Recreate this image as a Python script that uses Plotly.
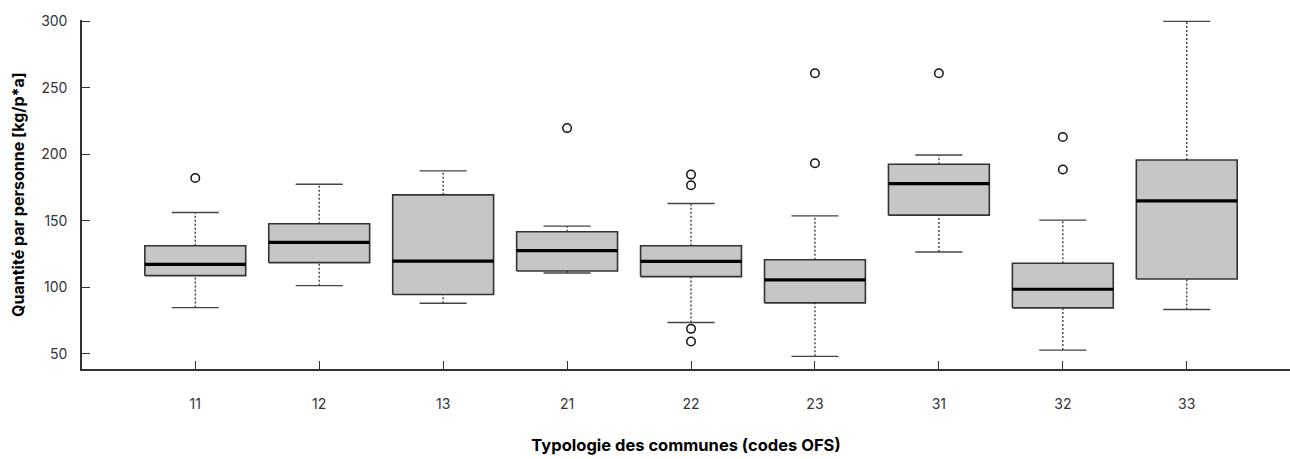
import plotly.graph_objects as go

# Municipality typology codes (OFS) and per-group boxplot statistics (kg per person per year)
codes = ["11", "12", "13", "21", "22", "23", "31", "32", "33"]
lower_whisker = [84.7, 101.2, 88.0, 110.7, 73.5, 48.0, 126.5, 52.7, 83.2]
q1 = [108.7, 118.5, 94.5, 112.2, 108.0, 88.2, 154.2, 84.5, 106.2]
median = [117.2, 133.7, 119.7, 127.5, 119.5, 105.5, 178.0, 98.5, 165.0]
q3 = [131.2, 147.7, 169.5, 141.7, 131.2, 120.7, 192.5, 118.0, 195.7]
upper_whisker = [156.2, 177.5, 187.5, 146.0, 163.0, 153.7, 199.5, 150.5, 300.0]
outliers = [
    [182.2],
    [],
    [],
    [219.7],
    [184.7, 176.7, 68.7, 59.2],
    [261.0, 193.2],
    [261.0],
    [213.0, 188.5],
    [],
]

BOX_HALF = 0.407
CAP_HALF = 0.19
FILL = "#c6c6c4"
EDGE = "#333333"

fig = go.Figure()

for i, code in enumerate(codes):
    x = i + 1
    # dotted whiskers
    for a, b in ((lower_whisker[i], q1[i]), (q3[i], upper_whisker[i])):
        fig.add_trace(go.Scatter(
            x=[x, x], y=[a, b], mode="lines",
            line=dict(color=EDGE, width=1.3, dash="2px,2px"),
            hoverinfo="skip", showlegend=False))
    # whisker caps
    for v in (lower_whisker[i], upper_whisker[i]):
        fig.add_trace(go.Scatter(
            x=[x - CAP_HALF, x + CAP_HALF], y=[v, v], mode="lines",
            line=dict(color="#444444", width=1.4),
            hoverinfo="skip", showlegend=False))
    # box
    fig.add_trace(go.Scatter(
        x=[x - BOX_HALF, x + BOX_HALF, x + BOX_HALF, x - BOX_HALF, x - BOX_HALF],
        y=[q1[i], q1[i], q3[i], q3[i], q1[i]],
        mode="lines", fill="toself", fillcolor=FILL,
        line=dict(color=EDGE, width=1.6),
        hoverinfo="skip", showlegend=False))
    # median
    fig.add_trace(go.Scatter(
        x=[x - BOX_HALF, x + BOX_HALF], y=[median[i], median[i]], mode="lines",
        line=dict(color="#000000", width=3.2),
        hoverinfo="skip", showlegend=False))
    # outliers
    if outliers[i]:
        fig.add_trace(go.Scatter(
            x=[x] * len(outliers[i]), y=outliers[i], mode="markers",
            marker=dict(symbol="circle-open", size=8.5, color="#111111",
                        line=dict(width=1.5, color="#111111")),
            cliponaxis=False, hoverinfo="skip", showlegend=False))

FONT = "Inter, Liberation Sans, Arial, sans-serif"
tick_font = dict(family=FONT, size=14, color="#333333")

fig.update_layout(
    width=1290, height=459,
    margin=dict(l=81.7, r=0, t=19.6, b=89.7),
    plot_bgcolor="white", paper_bgcolor="white",
    xaxis=dict(
        range=[0.086, 9.833],
        tickmode="array", tickvals=list(range(1, len(codes) + 1)), ticktext=codes,
        ticks="inside", ticklen=8, tickwidth=1.2, tickcolor=EDGE,
        showline=True, linecolor=EDGE, linewidth=1.5,
        showgrid=False, zeroline=False,
        tickfont=tick_font, ticklabelstandoff=21,
        title=dict(text="<b>Typologie des communes (codes OFS)</b>",
                   font=dict(family=FONT, size=16.5, color="#000000"), standoff=29),
    ),
    yaxis=dict(
        range=[38.5, 301],
        tickmode="array", tickvals=[50, 100, 150, 200, 250, 300],
        ticks="inside", ticklen=8, tickwidth=1.2, tickcolor=EDGE,
        showline=True, linecolor=EDGE, linewidth=1.5,
        showgrid=False, zeroline=False,
        tickfont=tick_font, ticklabelstandoff=10,
        title=dict(text="<b>Quantité par personne [kg/p*a]</b>",
                   font=dict(family=FONT, size=16, color="#000000"), standoff=13),
    ),
)

fig.write_html("out.html")
